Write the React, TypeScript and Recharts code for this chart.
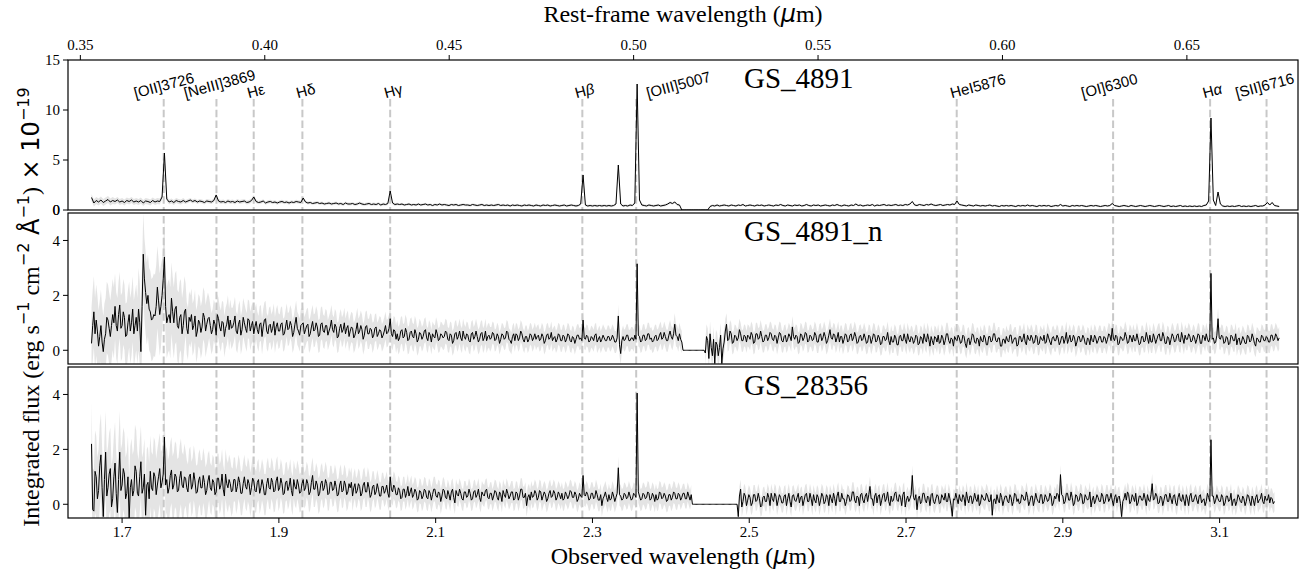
import React from "react";
import {
  ComposedChart,
  Line,
  Area,
  XAxis,
  YAxis,
  ReferenceLine,
  ReferenceDot,
} from "recharts";

/* ── Data ───────────────────────────────────────────────────── */

// 1 + z, observed = rest * Z1
const Z1 = 4.705;

// pixel grids of the spectra (observed micron)
const WAVE_START = 1.661;
const STEP_4891 = 0.003;
const STEP_FINE = 0.0015;

const X_DOMAIN: [number, number] = [1.631, 3.2];
const OBS_TICKS = [1.7, 1.9, 2.1, 2.3, 2.5, 2.7, 2.9, 3.1];
const REST_TICKS = [0.35, 0.4, 0.45, 0.5, 0.55, 0.6, 0.65];

const LINE_NAMES = [
  "[OII]3726",
  "[NeIII]3869",
  "Hε",
  "Hδ",
  "Hγ",
  "Hβ",
  "[OIII]5007",
  "HeI5876",
  "[OI]6300",
  "Hα",
  "[SII]6716",
];
const LINE_REST = [
  0.3726, 0.3869, 0.397, 0.4102, 0.434, 0.4861, 0.5007, 0.5876, 0.63, 0.6563,
  0.6716,
];

const PANEL_NAMES = ["GS_4891", "GS_4891_n", "GS_28356"];

// GS_4891: one row = 10 pixels of 0.003 micron
const FLUX_4891 = [
  1.25, .7, .95, .8, 1, .75, .9, 1.05, .8, .95,
  .85, 1, .8, .9, .75, .95, .85, 1, .8, .9,
  .8, .95, .7, .9, .85, .75, .95, .8, .9, .85,
  1.3, 5.7, 1.1, .8, .9, .75, .95, .85, .8, .95,
  .8, .9, 1, .85, .95, .8, .9, .85, .75, .9,
  .85, .8, .95, 1.5, .9, .8, .85, .75, .9, .8,
  .85, .75, .9, .8, .85, .9, .75, .8, .95, 1.3,
  .85, .75, .8, .9, .7, .8, .85, .75, .8, .7,
  .8, .85, .75, .8, .7, .8, .75, .85, .8, .75,
  1.2, .8, .7, .75, .65, .7, .75, .65, .7, .6,
  .65, .7, .6, .65, .7, .6, .65, .55, .7, .6,
  .6, .65, .55, .6, .7, .6, .55, .6, .65, .55,
  .6, .55, .65, .5, .6, .55, .65, 1.9, .7, .55,
  .6, .55, .6, .5, .55, .6, .5, .55, .5, .6,
  .5, .55, .6, .5, .55, .45, .55, .5, .6, .5,
  .55, .5, .45, .55, .5, .55, .45, .5, .55, .5,
  .5, .45, .55, .5, .45, .5, .55, .45, .5, .45,
  .5, .45, .5, .55, .45, .5, .45, .5, .4, .5,
  .45, .5, .45, .4, .5, .45, .5, .45, .4, .5,
  .45, .4, .5, .45, .5, .4, .45, .5, .45, .4,
  .45, .5, .4, .45, .5, .45, .4, .45, .6, 3.5,
  .5, .4, .45, .4, .45, .4, .45, .4, .45, .4,
  .45, .4, .45, .6, 4.5, .6, .4, .45, .4, .5,
  .45, .7, 12.6, 1, .5, .45, .4, .5, .45, .4,
  .45, .5, .4, .45, .5, .6, .75, .65, .8, .55,
  .5, 0, 0, 0, 0, 0, 0, 0, 0, 0,
  0, 0, 0, .35, .45, .4, .5, .4, .45, .5,
  .45, .4, .5, .45, .4, .5, .45, .55, .4, .45,
  .5, .45, .4, .5, .45, .5, .4, .45, .5, .45,
  .4, .5, .45, .55, .45, .4, .5, .45, .4, .5,
  .45, .5, .4, .45, .55, .45, .4, .5, .45, .5,
  .4, .45, .5, .45, .4, .5, .45, .55, .45, .4,
  .5, .45, .4, .5, .45, .6, .45, .5, .4, .45,
  .5, .45, .55, .4, .5, .45, .5, .55, .45, .5,
  .45, .5, .55, .45, .5, .45, .55, .5, .6, .85,
  .5, .45, .55, .5, .45, .55, .5, .6, .5, .45,
  .5, .55, .45, .5, .55, .5, .6, .55, .9, .55,
  .5, .45, .4, .5, .45, .4, .5, .45, .4, .45,
  .4, .45, .5, .4, .45, .4, .35, .45, .4, .45,
  .4, .45, .4, .35, .45, .4, .45, .4, .5, .4,
  .45, .4, .35, .45, .4, .45, .4, .45, .35, .4,
  .45, .4, .55, .4, .45, .4, .35, .45, .4, .45,
  .4, .45, .4, .35, .4, .45, .4, .45, .4, .35,
  .4, .45, .4, .45, .65, .45, .4, .35, .4, .45,
  .4, .35, .45, .4, .35, .4, .45, .4, .35, .4,
  .45, .4, .35, .4, .45, .4, .35, .4, .45, .35,
  .4, .35, .4, .45, .35, .4, .35, .4, .35, .4,
  .35, .4, .35, .45, .5, .9, 9.2, 1, .45, 1.8,
  .6, .4, .35, .4, .35, .4, .35, .4, .45, .35,
  .4, .35, .4, .35, .4, .45, .35, .4, .4, .5,
  .75, .5, .75, .45, .4, .35,
];

// GS_4891_n: one row = 20 pixels of 0.0015 micron
const FLUX_4891_N = [
  .25, .9, 1.4, .6, 1.1, .7, .15, .5, .9, .3, -.05, .4, .6, 1.2, 1.1, .8, .5, .9, 1.3, 1,
  1.6, .9, .7, 1.3, 1.65, .8, .9, 1.4, 1.2, .5, .55, 1, 1.3, .7, 1, 1.5, .6, .9, 1.2, .7,
  1.5, 1, -.05, 1.6, 3.5, 2.6, 2.1, 1.7, 2, 1.5, 1.4, 1.1, 1.15, 1.3, 1.25, 1.6, 2.3, 1.8, 1.3, 1.6,
  2, 2.6, 3.4, 1.6, 1, 1.2, 1.3, 1, 1.9, 1.4, 1, 1.5, 1.6, .9, .8, 1.2, 1.3, .6, .9, 1.4,
  1.5, .8, .6, 1.2, 1.05, 1.3, .75, .9, 1.25, .5, .7, 1.1, 1, .65, .85, 1.35, 1.2, .7, .95, 1.15,
  1.2, .9, .6, .75, 1.1, .95, .55, 1.3, 1.15, .85, .7, 1.05, 1, .5, .8, .95, 1.25, .75, 1.1, .8,
  .85, 1, 1.25, .7, .6, .95, 1.1, .55, .75, 1.2, 1, .8, .65, 1.15, 1.1, .7, .9, 1.05, .6, .85,
  1.05, .75, .6, .95, 1, .5, .85, 1.1, 1.15, .7, .6, .9, .95, .65, .8, 1.05, .55, .85, 1, .7,
  .7, .95, 1, .55, .6, .85, 1.1, .75, .8, 1.05, .9, .5, .65, .95, 1.2, .8, .7, .55, .9, .95,
  1, .6, .75, .9, .95, .5, .6, .85, 1.05, .7, .75, 1, .85, .5, .55, .95, 1, .7, .65, .9,
  .9, .55, .7, .85, 1.1, .75, .65, .95, .85, .45, .5, .8, .95, .65, .75, 1, .6, .8, .9, .5,
  .7, .85, .8, .45, .55, .75, 1, .6, .7, .9, .75, .4, .55, .85, .9, .6, .6, .8, .75, .45,
  .55, .8, .85, .5, .6, .75, .7, .45, .55, .7, .9, .6, .65, .8, 1.15, .6, .5, .75, .7, .4,
  .6, .35, .45, .7, .75, .45, .5, .8, .65, .35, .4, .65, .7, .5, .45, .75, .6, .3, .4, .65,
  .6, .4, .5, .7, .75, .45, .35, .65, .55, .3, .6, .5, .45, .75, .6, .35, .4, .6, .55, .45,
  .5, .7, .65, .4, .35, .6, .55, .25, .35, .6, .65, .4, .5, .7, .45, .35, .7, .5, .4, .6,
  .55, .35, .3, .6, .65, .4, .5, .7, .5, .3, .4, .6, .65, .35, .45, .7, .35, .5, .55, .4,
  .45, .65, .6, .35, .4, .6, .5, .25, .4, .6, .55, .4, .45, .7, .65, .4, .35, .25, .5, .6,
  .35, .6, .55, .35, .45, .7, .6, .4, .3, .5, .5, .3, .4, .6, .55, .35, .45, .6, .4, .5,
  .55, .35, .4, .6, .5, .25, .35, .55, .6, .4, .45, .65, .35, .45, .5, .3, .4, .6, .55, .35,
  .35, .55, .5, .3, .4, .6, .55, .35, .3, .5, .45, .25, .4, .55, .55, .4, .45, .35, 1.1, .45,
  .4, .55, .5, .3, .35, .5, .45, .35, .55, .6, .3, .4, .5, .3, .4, .55, .45, .35, .35, .5,
  .5, .35, .4, .55, .45, .3, .3, .45, 1.25, .2, -.12, .35, .5, .35, .4, .55, .55, .35, .35, .45,
  .45, .35, .55, .4, 3.15, .55, .5, .3, .35, .55, .55, .35, .4, .6, .6, .4, .45, .3, .35, .5,
  .55, .35, .4, .55, .65, .4, .45, .65, .5, .35, .35, .55, .7, .5, .4, .6, .95, .55, .5, .35,
  .6, .4, .3, 0, 0, 0, 0, 0, 0, 0, 0, 0, 0, 0, 0, 0, 0, 0, 0, 0,
  0, 0, -.1, .5, .35, -.3, .6, .1, -.2, .4, -.48, .3, .2, -.2, .1, .55, -.48, .05, .3, .7,
  .95, .35, .4, .7, .6, .25, .3, .55, .5, .35, .45, .75, .6, .35, .35, .55, .5, .3, .55, .5,
  .4, .65, .55, .25, .3, .6, .6, .4, .45, .7, .5, .3, .35, .55, .55, .35, .45, .65, .6, .4,
  .35, .55, .5, .25, .45, .65, .6, .35, .3, .5, .55, .3, .4, .6, .5, .35, .85, .5, .4, .55,
  .5, .25, .3, .6, .55, .35, .45, .65, .6, .3, .35, .55, .5, .35, .4, .65, .55, .3, .3, .55,
  .6, .35, .45, .65, .5, .25, .35, .55, .75, .45, .4, .6, .55, .3, .45, .65, .3, .5, .5, .25,
  .4, .6, .55, .3, .35, .55, .6, .35, .45, .65, .5, .25, .3, .5, .55, .35, .4, .6, .45, .25,
  .3, .55, .5, .25, .4, .6, .55, .3, .35, .55, .45, .2, .25, .5, .5, .35, .4, .65, .35, .2,
  .5, .3, .3, .55, .45, .2, .2, .5, .55, .35, .35, .6, .4, .25, .6, .4, .3, .5, .45, .25,
  .35, .55, .5, .2, .25, .5, .45, .25, .6, .4, .3, .6, .4, .15, .5, .35, .2, .5, .45, .3,
  .55, .25, .3, .55, .45, .2, .35, .6, .6, .35, .25, .45, .4, .15, .5, .4, .35, .55, .45, .25,
  .3, .55, .5, .25, .1, .4, .45, .2, .35, .6, .55, .3, .25, .45, .4, .15, .5, .35, .3, .55,
  .45, .2, .2, .5, .5, .3, .35, .6, .6, .35, .3, .45, .45, .15, .15, .4, .4, .25, .5, .35,
  .3, .55, .55, .25, .35, .45, .45, .15, .2, .5, .5, .3, .4, .6, .3, .2, .55, .4, .35, .55,
  .45, .25, .3, .55, .5, .2, .25, .5, .4, .35, .55, .25, .3, .6, .45, .3, .2, .45, .5, .35,
  .35, .55, .45, .2, .3, .5, .5, .25, .4, .65, .25, .4, .55, .3, .35, .55, .45, .15, .3, .5,
  .5, .3, .35, .55, .45, .25, .2, .45, .4, .2, .55, .35, .3, .55, .45, .25, .35, .5, .5, .3,
  .3, .5, .45, .25, .4, .6, .55, .35, .8, .45, .35, .55, .5, .2, .25, .5, .45, .35, .4, .65,
  .5, .25, .3, .55, .45, .3, .55, .35, .35, .6, .4, .2, .25, .5, .5, .3, .35, .65, .45, .25,
  .55, .3, .3, .6, .45, .25, .4, .55, .6, .35, .35, .65, .5, .25, .25, .5, .45, .2, .4, .6,
  .5, .3, .35, .55, .6, .35, .3, .65, .45, .25, .55, .4, .4, .6, .5, .3, .35, .55, .45, .25,
  .4, .6, .55, .25, .25, .55, .5, .35, .6, .4, .3, .45, 2.8, .4, .45, .25, .3, .55, 1.15, .45,
  .4, .55, .5, .25, .3, .5, .45, .2, .25, .55, .5, .35, .35, .6, .2, .4, .45, .2, .3, .5,
  .4, .25, .25, .55, .5, .3, .35, .6, .45, .25, .15, .45, .4, .3, .3, .55, .5, .35, .35, .5,
  .45, .3, .3, .55, .55, .35, .4, .6, .5, .35, .45,
];

// GS_28356: one row = 20 pixels of 0.0015 micron
const FLUX_28356 = [
  2.2, -.2, -.25, 1.2, 1, .2, .5, 1.4, 1.8, .6, -.45, .9, 1.9, .3, .6, 1.1, 1.3, -.1, .2, 1,
  1.5, .4, -.3, .9, 1.9, .5, .7, 1.3, 1.1, .2, .4, 1, -.55, .6, .9, .3, .5, 1.4, 1.2, .4,
  .3, 1, 1.55, .4, .6, 1.1, -.4, .7, .8, .2, 1.2, .6, .5, 1.15, 1, .35, .7, 1, 1.3, .6,
  .8, 1.1, 2.45, .7, .9, .4, .6, 1.05, 1.25, .55, .7, 1.1, 1, .45, .5, .95, 1.2, .7, .6, 1,
  .95, .6, .45, 1, 1.1, .55, .7, 1.15, .85, .4, .45, .85, 1, .6, .6, 1.05, .8, .35, .5, .85,
  1.05, .6, .5, .9, .8, .35, .45, .95, .95, .55, .7, 1.1, .55, .3, 1.1, .75, .6, .9, .75, .45,
  .5, .9, .9, .45, .65, 1, .8, .4, .4, .75, 1, .65, .55, .9, .75, .35, .6, .95, .85, .5,
  .45, .8, .9, .4, .6, .9, .7, .35, .35, .75, .95, .6, .55, .95, .8, .45, .5, .85, 1, .5,
  .6, .95, .75, .35, .4, .8, .85, .5, .65, .95, .5, .3, .9, .65, .55, .9, .7, .4, .45, .75,
  .9, .5, .6, .9, .75, .35, .45, .8, 1.05, .55, .55, .85, .7, .3, .4, .75, .85, .5, .6, .9,
  .75, .35, .4, .8, .8, .5, .55, .85, .65, .3, .35, .7, .85, .45, .5, .85, .7, .35, .45, .75,
  .6, .8, .3, .6, .75, .4, .5, .75, .65, .3, .4, .7, .8, .45, .45, .8, .6, .25, .35, .65,
  .7, .35, .45, .75, .55, .3, .3, .65, .65, .4, .5, .7, .4, .25, 1, .55, .45, .7, .6, .35,
  .35, .6, .5, .2, .25, .55, .55, .25, .4, .65, .3, .45, .6, .25, .35, .55, .45, .15, .2, .5,
  .45, .2, .3, .55, .5, .25, .2, .5, .4, .15, .35, .55, .55, .3, .25, .45, .4, .1, .3, .55,
  .5, .25, .2, .5, .35, .15, .45, .55, .25, .05, .5, .35, .3, .55, .4, .2, .15, .45, .45, .25,
  .3, .55, .4, .15, .2, .45, .5, .25, .35, .55, .25, .1, .45, .35, .3, .5, .55, .25, .2, .4,
  .4, .15, .3, .5, .45, .25, .15, .45, .35, .1, .5, .35, .25, .55, .4, .2, .3, .45, .45, .15,
  .2, .45, .4, .15, .3, .55, .55, .25, .25, .4, -.05, .25, .35, .15, .45, .25, .3, .5, .4, .15,
  .25, .5, .45, .15, .3, .45, .35, .1, .2, .4, .5, .25, .3, .5, .4, .15, .25, .45, .35, .2,
  .4, .15, .2, .45, .35, .2, .3, .5, .45, .25, .25, .45, .35, .1, .2, .4, .3, .25, 1.05, .35,
  .3, .45, .35, .15, .2, .4, .4, .2, .25, .5, .35, .15, .15, .35, -.05, .2, .3, .45, .25, .1,
  .35, .15, .2, .45, .3, .1, .25, .4, 1.33, .35, .3, .15, .2, .4, .35, .2, .25, .45, .3, .15,
  .2, .4, .35, .25, 4.05, .45, .3, .15, .2, .4, .35, .2, .25, .45, .4, .15, .2, .4, .3, .1,
  .35, .15, .2, .45, .4, .2, .25, .4, .3, .1, .15, .35, .35, .15, .25, .45, .4, .2, .2, .4,
  .35, .15, .25, .4, .4, .2, .2, .45, .3, .15, .35, 0, 0, 0, 0, 0, 0, 0, 0, 0,
  0, 0, 0, 0, 0, 0, 0, 0, 0, 0, 0, 0, 0, 0, 0, 0, 0, 0, 0, 0,
  0, 0, 0, 0, 0, 0, 0, 0, 0, 0, -.45, .3, .55, -.1, .1, .4, .3, -.05, .15, .35,
  .25, -.05, .05, .35, .35, .1, .15, .4, .2, -.1, -.05, .25, .3, .1, .1, .4, .25, -.05, .4, .2,
  .1, .4, .3, -.05, .15, .35, .25, .05, .05, .3, .35, -.05, .2, .4, .1, -.1, .3, .35, .15, .1,
  .25, .4, .05, .25, .3, -.05, .15, .35, .4, .1, .1, .4, .2, -.05, .35, .15, .05, .35, .25, -.05,
  .15, .4, .3, .02, .1, .35, .25, -.05, .35, .2, .05, .4, .2, -.05, .3, .45, .1, .1, .4, .2,
  .2, -.05, .1, .35, .3, .1, .15, .45, .45, .15, .05, .3, .25, -.05, .35, .4, .15, .05, .3, .4,
  .1, .35, .65, .2, .2, -.05, .3, .4, .05, .3, .35, -.05, .15, .35, .4, .1, .2, .45, .1, -.05,
  .3, .1, .15, .4, .45, .15, .1, .35, .25, -.05, .35, .45, -.1, .15, .3, .1, .2, .35, 1.05, .25,
  .15, .35, -.2, .2, .3, .02, .1, .4, .4, .15, .05, .3, .25, -.05, .35, .4, .1, .02, .2, .35,
  .3, .02, .05, .35, .25, .15, .4, .1, .1, .4, .2, -.05, -.44, .2, .15, .4, .2, .02, .35, .15,
  .1, .35, .25, -.05, .45, .2, .05, .3, .3, .02, .15, .4, .2, .1, .35, -.05, .05, .35, .25, .15,
  .15, .4, .3, .1, .1, .35, -.4, .15, .2, .02, .35, .15, .05, .4, .25, -.05, .15, .3, .3, .1,
  .05, .35, .25, -.05, .1, .4, .35, .1, .2, .02, .05, .35, .3, .15, .15, .45, .25, -.05, .1, .3,
  .3, -.05, .15, .4, .2, .1, .05, .35, .35, .02, .1, .35, .25, .1, .15, .4, .3, -.05, .05, .3,
  .2, .4, .35, .1, 1.08, .35, .3, .02, .1, .4, .4, .15, .15, .45, .25, -.05, .05, .35, .3, .1,
  .15, .4, .35, .02, .05, .35, .25, .15, .2, .45, -.1, .15, .3, .02, .15, .35, .25, .1, .1, .4,
  .3, .02, .1, .35, .35, .1, .2, .4, .15, -.05, .25, .35, .05, .25, .3, .02, -.45, .1, .2, .4,
  .15, .45, .35, .02, .1, .35, .25, .1, .4, -.05, .05, .3, .3, .15, .15, .4, .2, -.05, .35, .15,
  .1, .35, .75, .15, .2, .4, .3, .02, .05, .3, .25, -.05, .15, .35, .35, .1, .1, .4, .2, .02,
  .3, .35, .05, -.05, .25, .4, .15, .1, .35, .15, -.05, .35, .2, -.05, .3, .4, .1, .1, .25, .35,
  .15, .02, .3, .35, .05, .15, .2, -.05, .1, .4, .25, .1, 2.35, .3, .3, .02, .15, .35, .2, .1,
  .1, .35, .25, -.05, .05, .3, .3, .1, .15, .4, -.05, .15, .2, -.05, .1, .35, .25, .1, .05, .3,
  .2, -.05, .1, .35, .3, .1, -.05, .3, .15, -.05, .25, .35, .05, .15, .2, .4, .1, .02, .3, .15,
  .15, .35, .05, .25, .2, .02, .1,
];

// 1-sigma errors, one value per 0.03 micron
const ERR_4891 = [
  .35, .3, .3, .25, .2, .2, .2, .18, .18, .15,
  .15, .15, .15, .12, .12, .12, .12, .12, .12, .12,
  .12, .12, .12, .12, .12, .12, .12, .1, .1, .1,
  .1, .1, .1, .1, .1, .1, .1, .1, .1, .1,
  .1, .1, .1, .1, .1, .1, .1, .1, .1, .1,
  .1,
];
const ERR_4891_N = [
  1.3, 1.2, 1.5, 1.3, .95, .75, .7, .65, .6, .6,
  .55, .55, .5, .5, .45, .45, .45, .4, .4, .4,
  .4, .4, .4, .4, .4, .4, .45, .4, .4, .4,
  .4, .4, .4, .4, .4, .4, .4, .4, .4, .4,
  .4, .4, .4, .4, .4, .4, .4, .4, .4, .4,
  .4,
];
const ERR_28356 = [
  1.5, 1.5, 1.3, 1.2, 1, .9, .8, .75, .7, .65,
  .6, .55, .5, .45, .45, .4, .4, .4, .4, .4,
  .4, .4, .4, .4, .4, .35, .35, .35, .35, .35,
  .35, .35, .35, .35, .35, .35, .35, .35, .35, .35,
  .35, .35, .35, .35, .35, .35, .35, .35, .35, .35,
  .35,
];

/* ── Style ──────────────────────────────────────────────────── */

const SERIF = '"Liberation Serif", "DejaVu Serif", serif';
const SANS = '"Liberation Sans", Arial, sans-serif';
const MATH = '"DejaVu Sans", sans-serif';

const PLOT_LEFT = 68;
const PLOT_RIGHT = 1298;
const LINE_GREY = "#c8c8c8";
const LABEL_FS = 15;
const LABEL_ANGLE = 15;
// horizontal nudges of the line labels (px)
const LABEL_DX = [0, 3, 2, 3, 3, 2, 42, 21, -4, 2, -2];

const PANEL_LAYOUT = [
  { top: 60, height: 150, yDomain: [0, 15], yTicks: [0, 5, 10, 15] },
  { top: 213, height: 151, yDomain: [-0.5, 5], yTicks: [0, 2, 4] },
  { top: 367, height: 151, yDomain: [-0.5, 5], yTicks: [0, 2, 4] },
];

let measureCtx: CanvasRenderingContext2D | null = null;
function textWidth(s: string, font: string) {
  if (!measureCtx) measureCtx = document.createElement("canvas").getContext("2d");
  if (!measureCtx) return s.length * 8;
  measureCtx.font = font;
  return measureCtx.measureText(s).width;
}

function greek(name: string) {
  return name.split(/([αβ])/).map((part, k) =>
    part === "α" || part === "β" ? (
      <tspan key={k} fontStyle="italic">
        {part}
      </tspan>
    ) : (
      <tspan key={k}>{part}</tspan>
    )
  );
}

function lineLabel(name: string, dx: number) {
  return (props: any) => {
    const { cx, cy } = props;
    const w = textWidth(name, `${LABEL_FS}px ${SANS}`);
    const a = (LABEL_ANGLE * Math.PI) / 180;
    const boxH = w * Math.sin(a) + LABEL_FS * 0.75 * Math.cos(a);
    const x = cx + dx;
    const y = cy - 1 - boxH / 2;
    return (
      <text
        x={x}
        y={y}
        transform={`rotate(${-LABEL_ANGLE} ${x} ${y})`}
        textAnchor="middle"
        dominantBaseline="central"
        fontSize={LABEL_FS}
        fontFamily={SANS}
        fill="#000"
      >
        {greek(name)}
      </text>
    );
  };
}

function buildRows(flux: number[], err: number[], step: number) {
  const perErr = Math.round(0.03 / step);
  return flux.map((f, i) => {
    const e = err[Math.floor(i / perErr)];
    return {
      wave: +(WAVE_START + i * step).toFixed(4),
      flux: f,
      band: f === 0 ? null : [f - e, f + e],
    };
  });
}

/* ── Panel ──────────────────────────────────────────────────── */

function Panel({
  index,
  flux,
  err,
  step,
}: {
  index: number;
  flux: number[];
  err: number[];
  step: number;
}) {
  const lay = PANEL_LAYOUT[index];
  const first = index === 0;
  const last = index === PANEL_LAYOUT.length - 1;
  const topSpace = first ? 60 : 10;
  const bottomSpace = last ? 56 : 16;
  const height = topSpace + lay.height + bottomSpace;
  const rows = buildRows(flux, err, step);
  const tickStyle = { fill: "#000", fontSize: 15, fontFamily: SERIF };

  return (
    <div
      style={{
        position: "absolute",
        left: 0,
        top: lay.top - topSpace,
        zIndex: PANEL_LAYOUT.length - index,
      }}
    >
      <ComposedChart
        width={1304}
        height={height}
        data={rows}
        margin={{ top: first ? 0 : 10, right: 1304 - PLOT_RIGHT, bottom: 0, left: 0 }}
      >
        <XAxis
          dataKey="wave"
          type="number"
          domain={X_DOMAIN}
          allowDataOverflow
          ticks={OBS_TICKS}
          interval={0}
          tickFormatter={(v: number) => v.toFixed(1)}
          height={bottomSpace}
          axisLine={false}
          tickSize={5}
          tickMargin={3}
          tickLine={{ stroke: "#000" }}
          tick={last ? tickStyle : false}
        />
        {first && (
          <XAxis
            xAxisId="rest"
            dataKey="wave"
            orientation="top"
            type="number"
            domain={X_DOMAIN}
            allowDataOverflow
            ticks={REST_TICKS.map((t) => t * Z1)}
            interval={0}
            tickFormatter={(v: number) => (v / Z1).toFixed(2)}
            height={60}
            axisLine={false}
            tickSize={5}
            tickMargin={5}
            tickLine={{ stroke: "#000" }}
            tick={tickStyle}
          />
        )}
        <YAxis
          type="number"
          domain={lay.yDomain}
          allowDataOverflow
          ticks={lay.yTicks}
          interval={0}
          width={PLOT_LEFT}
          axisLine={false}
          tickSize={5}
          tickMargin={3}
          tickLine={{ stroke: "#000" }}
          tick={tickStyle}
        />
        {LINE_REST.map((r, k) =>
          first ? (
            <ReferenceLine
              key={k}
              segment={[
                { x: r * Z1, y: 11.1 },
                { x: r * Z1, y: 0 },
              ]}
              stroke={LINE_GREY}
              strokeWidth={2}
              strokeDasharray="7.5 3.3"
            />
          ) : (
            <ReferenceLine
              key={k}
              x={r * Z1}
              stroke={LINE_GREY}
              strokeWidth={2}
              strokeDasharray="7.5 3.3"
            />
          )
        )}
        <Area
          dataKey="band"
          stroke="none"
          fill="#d9d9d9"
          fillOpacity={0.7}
          isAnimationActive={false}
          dot={false}
          activeDot={false}
        />
        <Line
          dataKey="flux"
          stroke="#000"
          strokeWidth={1}
          dot={false}
          activeDot={false}
          isAnimationActive={false}
        />
        {first &&
          LINE_REST.map((r, k) => (
            <ReferenceDot
              key={`lab${k}`}
              x={r * Z1}
              y={11.1}
              r={0}
              shape={lineLabel(LINE_NAMES[k], LABEL_DX[k])}
            />
          ))}
      </ComposedChart>
    </div>
  );
}

/* ── Figure ─────────────────────────────────────────────────── */

export default function App() {
  const fluxes = [FLUX_4891, FLUX_4891_N, FLUX_28356];
  const errs = [ERR_4891, ERR_4891_N, ERR_28356];
  const steps = [STEP_4891, STEP_FINE, STEP_FINE];
  const cx = (PLOT_LEFT + PLOT_RIGHT) / 2;
  const top = PANEL_LAYOUT[0];

  return (
    <div
      style={{
        position: "absolute",
        left: 0,
        top: 0,
        width: 1304,
        height: 574,
        background: "#fff",
        overflow: "hidden",
      }}
    >
      {fluxes.map((f, k) => (
        <Panel key={k} index={k} flux={f} err={errs[k]} step={steps[k]} />
      ))}
      <svg
        width={1304}
        height={574}
        style={{
          position: "absolute",
          left: 0,
          top: 0,
          pointerEvents: "none",
          zIndex: 10,
        }}
      >
        {PANEL_LAYOUT.map((p, k) => (
          <g key={k}>
            <rect
              x={PLOT_LEFT}
              y={p.top}
              width={PLOT_RIGHT - PLOT_LEFT}
              height={p.height}
              fill="none"
              stroke="#000"
              strokeWidth={1.2}
            />
            <text
              x={744}
              y={p.top + 28}
              fontSize={29}
              fontFamily={SERIF}
              fill="#000"
            >
              {PANEL_NAMES[k]}
            </text>
          </g>
        ))}
        {/* bottom tick label of the top panel (its axis starts at 0) */}
        <text
          x={PLOT_LEFT - 8}
          y={top.top + top.height + 5}
          textAnchor="end"
          fontSize={15}
          fontFamily={SERIF}
          fill="#000"
        >
          0
        </text>
        <text x={cx} y={22} textAnchor="middle" fontSize={24} fontFamily={SERIF}>
          Rest-frame wavelength (
          <tspan fontFamily={MATH} fontStyle="italic">
            μ
          </tspan>
          m)
        </text>
        <text x={cx} y={564} textAnchor="middle" fontSize={24} fontFamily={SERIF}>
          Observed wavelength (
          <tspan fontFamily={MATH} fontStyle="italic">
            μ
          </tspan>
          m)
        </text>
        <text
          transform="rotate(-90)"
          x={-307}
          y={39}
          textAnchor="middle"
          fontSize={24}
          fontFamily={SERIF}
        >
          Integrated flux (erg s
          <tspan fontFamily={MATH} fontSize={16} dy={-10}>
            −1
          </tspan>
          <tspan dy={10}> cm</tspan>
          <tspan fontFamily={MATH} fontSize={16} dy={-10}>
            −2
          </tspan>
          <tspan dy={10} fontFamily={MATH}>
            {" Å"}
          </tspan>
          <tspan fontFamily={MATH} fontSize={16} dy={-10}>
            −1
          </tspan>
          <tspan dy={10}>)</tspan>
          <tspan fontFamily={MATH}>{" × 10"}</tspan>
          <tspan fontFamily={MATH} fontSize={16} dy={-10}>
            −19
          </tspan>
        </text>
      </svg>
    </div>
  );
}
